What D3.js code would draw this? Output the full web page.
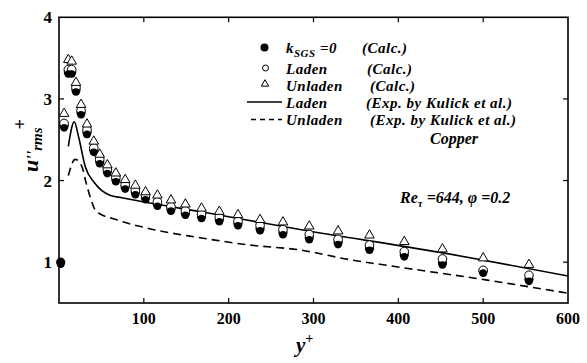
<!DOCTYPE html>
<html>
<head>
<meta charset="utf-8">
<script src="https://cdn.jsdelivr.net/npm/d3@7"></script>
<style>
  body { margin: 0; background: #fff; }
  svg text { font-family: "Liberation Serif", "Times New Roman", serif; font-weight: bold; fill: #000; }
</style>
</head>
<body>
<div id="chart"></div>
<script>
// data
const yPlus = [2, 6, 11, 15, 20, 26, 33, 41, 48, 57, 67, 78, 90, 102, 116, 132, 149, 168, 189, 211, 237, 264, 295, 329, 366, 407, 452, 500, 554];
const kSgsZero = [1.0, 2.67, 3.33, 3.33, 3.11, 2.83, 2.59, 2.37, 2.23, 2.11, 2.01, 1.92, 1.85, 1.79, 1.71, 1.65, 1.60, 1.56, 1.52, 1.47, 1.41, 1.36, 1.30, 1.24, 1.17, 1.09, 0.99, 0.89, 0.79];
// first laden / unladen points sit hidden under the filled one at y+ = 2
const ladenCalc = [null, 2.70, 3.36, 3.36, 3.14, 2.86, 2.62, 2.40, 2.26, 2.14, 2.04, 1.95, 1.88, 1.82, 1.74, 1.68, 1.63, 1.59, 1.55, 1.50, 1.45, 1.40, 1.34, 1.28, 1.21, 1.13, 1.04, 0.90, 0.84];
const unladenCalc = [null, 2.82, 3.48, 3.46, 3.20, 2.93, 2.69, 2.48, 2.32, 2.19, 2.09, 2.01, 1.94, 1.86, 1.82, 1.76, 1.71, 1.66, 1.62, 1.58, 1.52, 1.49, 1.44, 1.38, 1.33, 1.25, 1.16, 1.05, 0.97];

const ladenExpX = [11, 18, 23, 31, 42, 60, 74, 99, 166, 284, 449, 600];
const ladenExpY = [2.42, 2.72, 2.54, 2.17, 1.97, 1.82, 1.79, 1.74, 1.62, 1.40, 1.12, 0.83];
const unladenExpX = [11, 19, 27, 32, 38, 44, 68, 107, 166, 225, 284, 343, 394, 505, 600];
const unladenExpY = [2.06, 2.26, 2.17, 1.97, 1.76, 1.62, 1.52, 1.41, 1.30, 1.21, 1.15, 1.03, 0.95, 0.78, 0.62];

const xTicks = [100, 200, 300, 400, 500, 600];
const yTicks = [1, 2, 3, 4];

const width = 587, height = 363;
const plotL = 59, plotR = 568, plotT = 17.3, plotB = 303;

const svg = d3.select("#chart")
  .append("svg")
  .attr("width", width)
  .attr("height", height);

const x = d3.scaleLinear().domain([0, 600]).range([plotL, plotR]);
const y = d3.scaleLinear().domain([0.5, 4]).range([plotB, plotT]);

// frame
svg.append("rect")
  .attr("x", plotL).attr("y", plotT)
  .attr("width", plotR - plotL).attr("height", plotB - plotT)
  .attr("fill", "none").attr("stroke", "#000").attr("stroke-width", 1.6);

// ticks, all pointing inward
const tickLen = 5;
xTicks.filter(t => t < 600).forEach(t => {
  svg.append("line").attr("x1", x(t)).attr("x2", x(t))
    .attr("y1", plotB).attr("y2", plotB - tickLen).attr("stroke", "#000").attr("stroke-width", 1.2);
  svg.append("line").attr("x1", x(t)).attr("x2", x(t))
    .attr("y1", plotT).attr("y2", plotT + tickLen).attr("stroke", "#000").attr("stroke-width", 1.2);
});
yTicks.filter(t => t < 4).forEach(t => {
  svg.append("line").attr("x1", plotL).attr("x2", plotL + tickLen)
    .attr("y1", y(t)).attr("y2", y(t)).attr("stroke", "#000").attr("stroke-width", 1.2);
  svg.append("line").attr("x1", plotR).attr("x2", plotR - tickLen)
    .attr("y1", y(t)).attr("y2", y(t)).attr("stroke", "#000").attr("stroke-width", 1.2);
});

// tick labels
svg.selectAll(".xl").data(xTicks).enter().append("text")
  .attr("x", d => x(d)).attr("y", 324)
  .attr("text-anchor", "middle").attr("font-size", 16)
  .text(d => d);
svg.selectAll(".yl").data(yTicks).enter().append("text")
  .attr("x", 52).attr("y", d => y(d) + 6)
  .attr("text-anchor", "end").attr("font-size", 17)
  .text(d => d);

// axis titles
const xt = svg.append("text").attr("x", 296).attr("y", 352)
  .attr("font-size", 21).attr("font-style", "italic");
xt.append("tspan").text("y");
xt.append("tspan").attr("dy", -9).attr("font-size", 14).text("+");

const yt = svg.append("text")
  .attr("transform", "translate(38,172) rotate(-90)")
  .attr("font-size", 22).attr("font-style", "italic");
yt.append("tspan").text("u");
yt.append("tspan").attr("font-size", 16).text("''");
yt.append("tspan").attr("dy", 4).attr("font-size", 15).text("rms");
yt.append("tspan").attr("dy", -16).attr("dx", -2).attr("font-size", 18).text("+");

// experimental lines
const line = d3.line()
  .x(d => x(d[0])).y(d => y(d[1]))
  .curve(d3.curveMonotoneX);

svg.append("path")
  .datum(ladenExpX.map((v, i) => [v, ladenExpY[i]]))
  .attr("d", line)
  .attr("fill", "none").attr("stroke", "#000").attr("stroke-width", 1.6);

svg.append("path")
  .datum(unladenExpX.map((v, i) => [v, unladenExpY[i]]))
  .attr("d", line)
  .attr("fill", "none").attr("stroke", "#000").attr("stroke-width", 1.6)
  .attr("stroke-dasharray", "8,5");

// calculated markers
const tri = d3.symbol().type(d3.symbolTriangle).size(40);
const ladenPts = yPlus.map((v, i) => [v, ladenCalc[i]]).filter(p => p[1] != null);
const unladenPts = yPlus.map((v, i) => [v, unladenCalc[i]]).filter(p => p[1] != null);

svg.selectAll(".kzero").data(yPlus).enter().append("circle")
  .attr("cx", d => x(d)).attr("cy", (d, i) => y(kSgsZero[i]))
  .attr("r", 4.6).attr("fill", "#000");

svg.selectAll(".laden").data(ladenPts).enter().append("circle")
  .attr("cx", d => x(d[0])).attr("cy", d => y(d[1]))
  .attr("r", 4.3).attr("fill", "#fff").attr("stroke", "#000").attr("stroke-width", 1);

svg.selectAll(".kzero2").data(yPlus).enter().append("circle")
  .attr("cx", d => x(d)).attr("cy", (d, i) => y(kSgsZero[i]) + 2)
  .attr("r", 3.8).attr("fill", "#000");

svg.selectAll(".unladen").data(unladenPts).enter().append("path")
  .attr("d", tri)
  .attr("transform", d => `translate(${x(d[0])},${y(d[1])})`)
  .attr("fill", "#fff").attr("stroke", "#000").attr("stroke-width", 1);

// legend
svg.append("circle").attr("cx", 264.5).attr("cy", 47.5).attr("r", 4).attr("fill", "#000");
svg.append("circle").attr("cx", 265.5).attr("cy", 68).attr("r", 3).attr("fill", "#fff").attr("stroke", "#000").attr("stroke-width", 1);
svg.append("path").attr("d", d3.symbol().type(d3.symbolTriangle).size(24))
  .attr("transform", "translate(265,84)")
  .attr("fill", "#fff").attr("stroke", "#000").attr("stroke-width", 1);
svg.append("line").attr("x1", 247).attr("x2", 282).attr("y1", 102).attr("y2", 102)
  .attr("stroke", "#000").attr("stroke-width", 1.4);
svg.append("line").attr("x1", 251).attr("x2", 282).attr("y1", 119.5).attr("y2", 119.5)
  .attr("stroke", "#000").attr("stroke-width", 1.4).attr("stroke-dasharray", "5,4");

const legFont = 15;
const legSpacing = 0.5;
const k = svg.append("text").attr("x", 286).attr("y", 53)
  .attr("font-size", legFont).attr("font-style", "italic").attr("letter-spacing", legSpacing);
k.append("tspan").text("k");
k.append("tspan").attr("dy", 4).attr("font-size", 11).text("SGS");
k.append("tspan").attr("dy", -4).text(" =0");

const legRows = [
  ["Laden", 286, 74, "(Calc.)", 367, 74],
  ["Unladen", 286, 91, "(Calc.)", 370, 91],
  ["Laden", 286, 108, "(Exp. by Kulick et al.)", 366, 108],
  ["Unladen", 286, 125, "(Exp. by Kulick et al.)", 370, 125]
];
svg.append("text").attr("x", 362).attr("y", 53)
  .attr("font-size", legFont).attr("font-style", "italic").attr("letter-spacing", legSpacing).text("(Calc.)");
legRows.forEach(r => {
  svg.append("text").attr("x", r[1]).attr("y", r[2])
    .attr("font-size", legFont).attr("font-style", "italic").attr("letter-spacing", legSpacing).text(r[0]);
  svg.append("text").attr("x", r[4]).attr("y", r[5])
    .attr("font-size", legFont).attr("font-style", "italic").attr("letter-spacing", legSpacing).text(r[3]);
});

svg.append("text").attr("x", 430).attr("y", 144)
  .attr("font-size", 16).attr("font-style", "italic").text("Copper");

const re = svg.append("text").attr("x", 400).attr("y", 203)
  .attr("font-size", 16).attr("font-style", "italic");
re.append("tspan").text("Re");
re.append("tspan").attr("dy", 4).attr("font-size", 11).text("τ");
re.append("tspan").attr("dy", -4).text(" =644, ");
re.append("tspan").text("φ");
re.append("tspan").text(" =0.2");
</script>
</body>
</html>
